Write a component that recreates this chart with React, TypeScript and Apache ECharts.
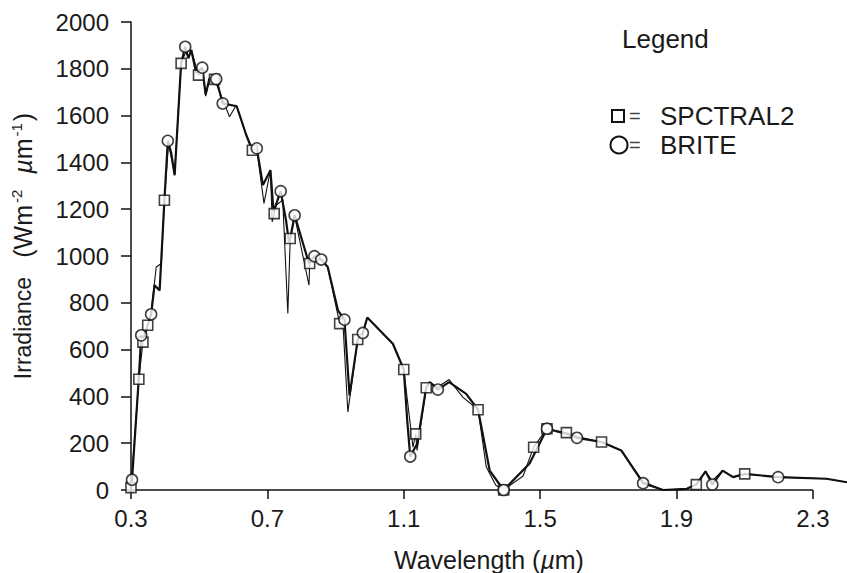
import { useEffect, useRef } from "react";
import * as echarts from "echarts";

const FONT = "'Liberation Sans', Arial, Helvetica, sans-serif";
const INK = "#111111";

// Axis tick positions and the drawn span of the wavelength axis
const xTicks = [0.3, 0.7, 1.1, 1.5, 1.9, 2.3];
const xAxisSpan = [0.3, 2.3];

// SPCTRAL2 modelled spectrum (µm, W m-2 µm-1)
const spctral2Wl = [
  0.3, 0.323, 0.335, 0.349, 0.359, 0.374, 0.389, 0.398, 0.41, 0.428, 0.447, 0.46, 0.477, 0.498,
  0.51, 0.519, 0.53, 0.545, 0.589, 0.609, 0.638, 0.656, 0.669, 0.69, 0.709, 0.714, 0.72, 0.726,
  0.745, 0.76, 0.767, 0.78, 0.822, 0.824, 0.838, 0.858, 0.877, 0.912, 0.921, 0.936, 0.965, 0.98,
  0.993, 1.068, 1.1, 1.127, 1.135, 1.139, 1.166, 1.176, 1.2, 1.233, 1.273, 1.318, 1.342, 1.37,
  1.393, 1.45, 1.481, 1.52, 1.577, 1.608, 1.68, 1.738, 1.802, 1.861, 1.93, 1.958, 1.985, 2.005,
  2.035, 2.066, 2.1, 2.198, 2.34, 2.4,
];
const spctral2Irr = [
  10, 473, 632, 704, 760, 953, 968, 1238, 1480, 1350, 1823, 1870, 1880, 1773,
  1790, 1683, 1759, 1755, 1595, 1645, 1517, 1452, 1455, 1225, 1367, 1146, 1181, 1217,
  1240, 754, 1075, 1170, 875, 968, 995, 985, 953, 711, 728, 333, 643, 665,
  737, 625, 515, 183, 240, 169, 437, 461, 440, 472, 397, 343, 98, 20,
  0, 60, 183, 262, 245, 228, 205, 169, 35, 0, 5, 23, 78, 40,
  83, 55, 69, 55, 48, 33,
];

// BRITE modelled spectrum
const briteWl = [
  0.3, 0.303, 0.323, 0.33, 0.335, 0.349, 0.359, 0.369, 0.384, 0.398, 0.408, 0.418, 0.428, 0.447,
  0.459, 0.468, 0.477, 0.491, 0.509, 0.519, 0.53, 0.55, 0.569, 0.61, 0.638, 0.656, 0.669, 0.687,
  0.709, 0.718, 0.739, 0.755, 0.763, 0.767, 0.78, 0.822, 0.838, 0.858, 0.877, 0.907, 0.926, 0.941,
  0.965, 0.98, 0.993, 1.068, 1.1, 1.11, 1.119, 1.14, 1.166, 1.176, 1.2, 1.233, 1.283, 1.318,
  1.352, 1.393, 1.469, 1.52, 1.577, 1.608, 1.68, 1.738, 1.802, 1.861, 1.93, 1.958, 1.985, 2.005,
  2.035, 2.066, 2.1, 2.198, 2.34, 2.4,
];
const briteIrr = [
  5, 44, 480, 661, 640, 704, 751, 875, 853, 1238, 1492, 1440, 1345, 1823,
  1894, 1845, 1880, 1782, 1805, 1690, 1759, 1756, 1652, 1640, 1517, 1452, 1460, 1303,
  1367, 1190, 1277, 1150, 1060, 1075, 1174, 968, 999, 985, 953, 768, 728, 404,
  643, 671, 737, 625, 515, 300, 143, 200, 440, 461, 429, 461, 411, 343,
  83, 0, 113, 262, 240, 223, 205, 169, 29, 0, 5, 23, 80, 23,
  83, 55, 69, 55, 48, 33,
];

// Marked comparison points
const spctral2MarkWl = [
  0.3, 0.323, 0.335, 0.349, 0.398, 0.447, 0.498, 0.545, 0.656, 0.72, 0.767, 0.824, 0.912,
  0.965, 1.1, 1.135, 1.166, 1.318, 1.393, 1.481, 1.52, 1.577, 1.68, 1.958, 2.1,
];
const spctral2MarkIrr = [
  10, 473, 632, 704, 1238, 1823, 1773, 1755, 1452, 1181, 1075, 968, 711,
  643, 515, 240, 437, 343, 0, 183, 262, 245, 205, 23, 69,
];
const briteMarkWl = [
  0.303, 0.33, 0.359, 0.408, 0.459, 0.509, 0.55, 0.569, 0.669, 0.739, 0.78, 0.838, 0.858,
  0.926, 0.98, 1.119, 1.2, 1.393, 1.52, 1.608, 1.802, 2.005, 2.198,
];
const briteMarkIrr = [
  44, 661, 751, 1492, 1894, 1805, 1756, 1652, 1460, 1277, 1174, 999, 985,
  728, 671, 143, 429, 0, 262, 223, 29, 23, 55,
];

const zip = (xs: number[], ys: number[]) => xs.map((x, i) => [x, ys[i]]);

export default function App() {
  const ref = useRef<HTMLDivElement>(null);

  useEffect(() => {
    const chart = echarts.init(ref.current!, null, { renderer: "svg" });
    const text = { fontFamily: FONT, color: "#1a1a1a" };

    chart.setOption({
      animation: false,
      backgroundColor: "#ffffff",
      grid: {
        left: 131,
        right: 0,
        top: 22,
        bottom: 83,
        containLabel: false,
        outerBoundsMode: "none",
      },
      xAxis: {
        type: "value",
        min: 0.3,
        max: 2.4,
        name: "Wavelength ({i|µ}m)",
        nameLocation: "middle",
        nameGap: 57,
        nameTextStyle: {
          ...text,
          fontSize: 25,
          rich: { i: { ...text, fontSize: 25, fontStyle: "italic" } },
        },
        // the baseline itself is drawn as a markLine so it stops at 2.3
        axisLine: { show: false },
        axisTick: { show: true, length: 9, lineStyle: { color: INK, width: 1.5 }, customValues: xTicks },
        axisLabel: {
          ...text,
          fontSize: 24,
          margin: 16,
          customValues: xTicks,
          formatter: (v: number) => v.toFixed(1),
        },
        splitLine: { show: false },
      },
      yAxis: {
        type: "value",
        min: 0,
        max: 2000,
        interval: 200,
        name: "{n|Irradiance}{n|   }{p|(Wm}{s|-2}{p|  }{pi|µ}{p|m}{s|-1}{p|)}",
        nameLocation: "middle",
        nameGap: 94,
        nameTextStyle: {
          ...text,
          fontSize: 23,
          padding: [0, 0, 0, 20],
          rich: {
            n: { ...text, fontSize: 23, lineHeight: 28 },
            p: { ...text, fontSize: 25, lineHeight: 28 },
            pi: { ...text, fontSize: 25, lineHeight: 28, fontStyle: "italic" },
            s: { ...text, fontSize: 15, lineHeight: 15, verticalAlign: "top", padding: [0, 2, 0, 2] },
          },
        },
        axisLine: { show: true, lineStyle: { color: INK, width: 1.5 } },
        axisTick: { show: true, length: 10, lineStyle: { color: INK, width: 1.5 } },
        axisLabel: { ...text, fontSize: 24, margin: 22, formatter: (v: number) => String(v) },
        splitLine: { show: false },
      },
      graphic: [
        { type: "text", left: 622, top: 26, style: { text: "Legend", font: `26px ${FONT}`, fill: "#1a1a1a" } },
        {
          type: "rect",
          shape: { x: 612, y: 110, width: 12, height: 12 },
          style: { fill: "#fff", stroke: INK, lineWidth: 2 },
        },
        { type: "text", x: 629, y: 116, style: { text: "=", font: `20px ${FONT}`, fill: "#444", verticalAlign: "middle" } },
        { type: "text", x: 660, y: 116, style: { text: "SPCTRAL2", font: `26px ${FONT}`, fill: "#1a1a1a", verticalAlign: "middle" } },
        {
          type: "circle",
          shape: { cx: 619, cy: 145, r: 8.5 },
          style: { fill: "#fff", stroke: INK, lineWidth: 2 },
        },
        { type: "text", x: 629, y: 145, style: { text: "=", font: `20px ${FONT}`, fill: "#444", verticalAlign: "middle" } },
        { type: "text", x: 660, y: 145, style: { text: "BRITE", font: `26px ${FONT}`, fill: "#1a1a1a", verticalAlign: "middle" } },
      ],
      series: [
        {
          name: "SPCTRAL2",
          type: "line",
          data: zip(spctral2Wl, spctral2Irr),
          showSymbol: false,
          silent: true,
          z: 2,
          lineStyle: { color: INK, width: 1.1 },
          itemStyle: { color: INK },
        },
        {
          name: "BRITE",
          type: "line",
          data: zip(briteWl, briteIrr),
          showSymbol: false,
          clip: false,
          silent: true,
          z: 3,
          lineStyle: { color: INK, width: 2.2 },
          itemStyle: { color: INK },
          markLine: {
            silent: true,
            symbol: ["none", "none"],
            label: { show: false },
            lineStyle: { color: INK, width: 1.5, type: "solid" },
            data: [[{ coord: [xAxisSpan[0], 0] }, { coord: [xAxisSpan[1], 0] }]],
          },
        },
        {
          name: "SPCTRAL2",
          type: "scatter",
          data: zip(spctral2MarkWl, spctral2MarkIrr),
          symbol: "rect",
          symbolSize: 10,
          silent: true,
          clip: false,
          z: 5,
          itemStyle: { color: "#ffffff", borderColor: INK, borderWidth: 1.6 },
        },
        {
          name: "BRITE",
          type: "scatter",
          data: zip(briteMarkWl, briteMarkIrr),
          symbol: "circle",
          symbolSize: 11,
          silent: true,
          clip: false,
          z: 5,
          itemStyle: { color: "#ffffff", borderColor: INK, borderWidth: 1.6 },
        },
      ],
    });

    return () => chart.dispose();
  }, []);

  return (
    <div
      ref={ref}
      style={{ position: "fixed", left: 0, top: 0, width: 847, height: 573, background: "#fff" }}
    />
  );
}
